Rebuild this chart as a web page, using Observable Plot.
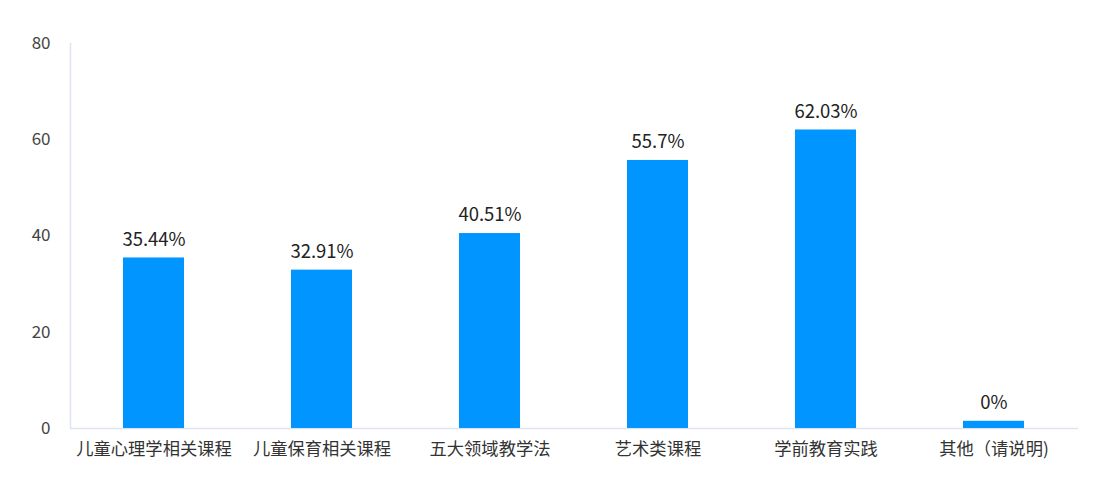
<!DOCTYPE html>
<html><head><meta charset="utf-8">
<script src="https://cdn.jsdelivr.net/npm/d3@7"></script>
<script src="https://cdn.jsdelivr.net/npm/@observablehq/plot@0.6"></script>
<style>
html,body{margin:0;padding:0;background:#fff;}
#chart{width:1108px;height:492px;}
</style>
</head><body><div id="chart"></div>
<script>
const categories = ["儿童心理学相关课程","儿童保育相关课程","五大领域教学法","艺术类课程","学前教育实践","其他（请说明)"];
const values = [35.44, 32.91, 40.51, 55.7, 62.03, 0];
const valueLabels = ["35.44%","32.91%","40.51%","55.7%","62.03%","0%"];
const yTicks = [0, 20, 40, 60, 80];
const minShown = 1.5; // visual minimum bar height for zero values, as in the reference

const data = categories.map((c, i) => ({cat: c, v: values[i], shown: Math.max(values[i], minShown), label: valueLabels[i]}));

const font = "'Noto Sans CJK SC','Microsoft YaHei',sans-serif";
const chart = Plot.plot({
  width: 1108, height: 492,
  marginLeft: 70, marginRight: 30, marginTop: 43, marginBottom: 64,
  style: {fontFamily: font, background: "#fff"},
  x: {domain: categories, paddingInner: 0.636, paddingOuter: 0.318, label: null},
  y: {domain: [0, 80], label: null},
  marks: [
    Plot.frame({anchor: "left", stroke: "#dfe4ee", strokeWidth: 1.5}),
    Plot.ruleY([0], {stroke: "#dfe4ee", strokeWidth: 1.5}),
    Plot.axisY({ticks: yTicks, tickSize: 0, tickPadding: 20, fontSize: 17, fill: "#444", label: null}),
    Plot.axisX({tickSize: 0, tickPadding: 14, fontSize: 17.3, fill: "#333", label: null}),
    Plot.barY(data, {x: "cat", y: "shown", fill: "#0095ff"}),
    Plot.text(data, {x: "cat", y: "shown", text: "label", dy: -18, fontSize: 18.5, fill: "#222"})
  ]
});
document.getElementById("chart").appendChild(chart);
</script>
</body></html>
